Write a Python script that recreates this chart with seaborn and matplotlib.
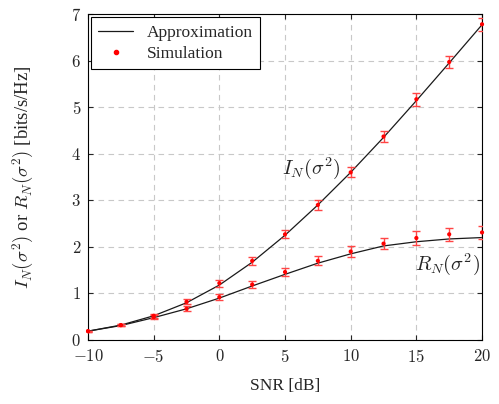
import numpy as np
import pandas as pd
import matplotlib
matplotlib.use("Agg")
import matplotlib.pyplot as plt
from matplotlib.ticker import FuncFormatter
from matplotlib.lines import Line2D
import seaborn as sns

snr = [-10, -7.5, -5, -2.5, 0, 2.5, 5, 7.5, 10, 12.5, 15, 17.5, 20]
i_approx = [0.19, 0.32, 0.52, 0.80, 1.18, 1.67, 2.25, 2.90, 3.60, 4.35, 5.14, 5.95, 6.77]
r_approx = [0.19, 0.31, 0.48, 0.67, 0.90, 1.16, 1.41, 1.65, 1.85, 2.02, 2.11, 2.17, 2.20]
i_sim = [0.19, 0.32, 0.52, 0.82, 1.22, 1.70, 2.27, 2.90, 3.60, 4.37, 5.17, 5.97, 6.78]
r_sim = [0.19, 0.32, 0.49, 0.67, 0.92, 1.19, 1.46, 1.70, 1.90, 2.07, 2.19, 2.27, 2.31]
i_err = [0.01, 0.02, 0.04, 0.05, 0.075, 0.08, 0.086, 0.10, 0.11, 0.12, 0.135, 0.135, 0.135]
r_err = [0.01, 0.02, 0.04, 0.05, 0.06, 0.07, 0.086, 0.10, 0.12, 0.125, 0.14, 0.14, 0.14]

sns.set_style("ticks")
plt.rcParams['font.family'] = ['Liberation Serif', 'DejaVu Serif']
plt.rcParams['mathtext.fontset'] = 'cm'

fig = plt.figure(figsize=(4.99, 4.04), dpi=100)
ax = fig.add_axes([0.1764, 0.1584, 0.966 - 0.1764, 0.9653 - 0.1584])

df = pd.DataFrame({"snr": snr + snr,
                   "val": i_approx + r_approx,
                   "curve": ["I"] * len(snr) + ["R"] * len(snr)})
sns.lineplot(data=df, x="snr", y="val", units="curve", estimator=None,
             color="#1a1a1a", lw=0.9, ax=ax, zorder=3)

ax.errorbar(snr, i_sim, yerr=i_err, fmt="none", ecolor="#ff4545", elinewidth=1.0,
            capsize=3, capthick=1.0, zorder=4, clip_on=True)
ax.errorbar(snr, r_sim, yerr=r_err, fmt="none", ecolor="#ff4545", elinewidth=1.0,
            capsize=3, capthick=1.0, zorder=4, clip_on=True)
sdf = pd.DataFrame({"snr": snr + snr, "val": i_sim + r_sim})
sns.scatterplot(data=sdf, x="snr", y="val", color="red", s=9, edgecolor="none",
                ax=ax, zorder=5, clip_on=False)

ax.set_xlim(-10, 20)
ax.set_ylim(0, 7)
ax.set_xticks([-10, -5, 0, 5, 10, 15, 20])
ax.set_yticks(range(0, 8))
ax.xaxis.set_major_formatter(FuncFormatter(lambda v, p: f"${int(v)}$"))
ax.yaxis.set_major_formatter(FuncFormatter(lambda v, p: f"${int(v)}$"))
ax.tick_params(direction="in", top=True, right=True, labelsize=12, length=3.5, width=0.8)
ax.tick_params(axis="x", pad=6.5)
ax.tick_params(axis="y", pad=5)
ax.grid(True, ls=(0, (5, 4)), color="#c8c8c8", lw=0.8)
for s in ax.spines.values():
    s.set_linewidth(0.8)
    s.set_color("black")

ax.set_xlabel("SNR [dB]", fontsize=12.5, labelpad=8.5)
ax.set_ylabel(r"$I_N(\sigma^2)$ or $R_N(\sigma^2)$ [bits/s/Hz]", fontsize=13.5, labelpad=25)

ax.text(4.8, 3.68, r"$I_N(\sigma^2)$", fontsize=14.5, va="center", ha="left")
ax.text(14.9, 1.62, r"$R_N(\sigma^2)$", fontsize=14.5, va="center", ha="left")

handles = [Line2D([], [], color="#1a1a1a", lw=0.9),
           Line2D([], [], color="red", marker="o", ms=3, ls="none")]
leg = ax.legend(handles, ["Approximation", "Simulation"], loc="upper left",
                fontsize=12.5, frameon=True, fancybox=False, framealpha=1,
                edgecolor="black", borderpad=0.4, handlelength=2.0,
                labelspacing=0.3, borderaxespad=0.2)
leg.get_frame().set_linewidth(0.8)

fig.savefig("out.png", dpi=100)
